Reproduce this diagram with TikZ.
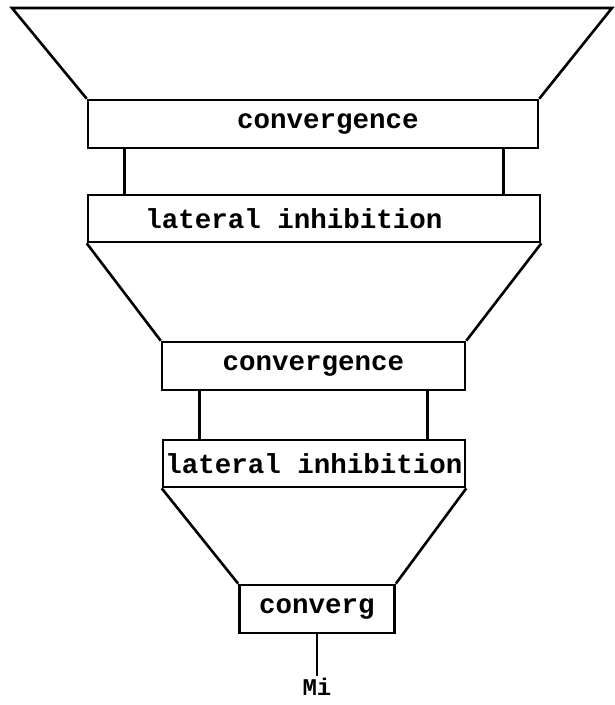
\documentclass[tikz,border=0pt]{standalone}
\usepackage{fontspec}
\setmonofont{Liberation Mono}
\usetikzlibrary{positioning,calc}

\begin{document}
\begin{tikzpicture}[x=1pt,y=-1pt,line width=2.6pt,
    layer/.style={draw,minimum height=48pt,inner sep=0pt,
      font=\ttfamily\bfseries\fontsize{27.5}{30}\selectfont},
    label/.style={font=\ttfamily\bfseries\fontsize{24}{26}\selectfont,inner sep=1pt}]
    \useasboundingbox (0,0) rectangle (615,705);

    % stages, top to bottom
    \node[layer,minimum width=450pt] (conv1) at (313,124) {\hspace{30pt}convergence};
    \node[layer,minimum width=452pt,minimum height=47pt] (inh1) at (314,218.5) {lateral inhibition\kern40pt};
    \node[layer,minimum width=303pt] (conv2) at (313.5,366) {convergence};
    \node[layer,minimum width=302pt,minimum height=47pt] (inh2) at (314,463.5) {lateral inhibition};
    \node[layer,minimum width=155pt] (conv3) at (317,609) {converg};
    \node[label,anchor=north] (out) at (317,676) {Mi};

    % funnels
    \coordinate (tl) at (12,8);
    \coordinate (tr) at (612,8);
    \draw (conv1.north west) -- (tl) -- (tr) -- (conv1.north east);
    \draw (inh1.south west) -- (conv2.north west);
    \draw (inh1.south east) -- (conv2.north east);
    \draw (inh2.south west) -- (conv3.north west);
    \draw (inh2.south east) -- (conv3.north east);

    % posts between boxes
    \draw ([xshift=38pt]conv1.south west) -- ([xshift=38pt]conv1.south west |- inh1.north);
    \draw ([xshift=-36pt]conv1.south east) -- ([xshift=-36pt]conv1.south east |- inh1.north);
    \draw ([xshift=39pt]conv2.south west) -- ([xshift=39pt]conv2.south west |- inh2.north);
    \draw ([xshift=-39pt]conv2.south east) -- ([xshift=-39pt]conv2.south east |- inh2.north);

    \draw (conv3.south) -- (out.north);
  \end{tikzpicture}
\end{document}
